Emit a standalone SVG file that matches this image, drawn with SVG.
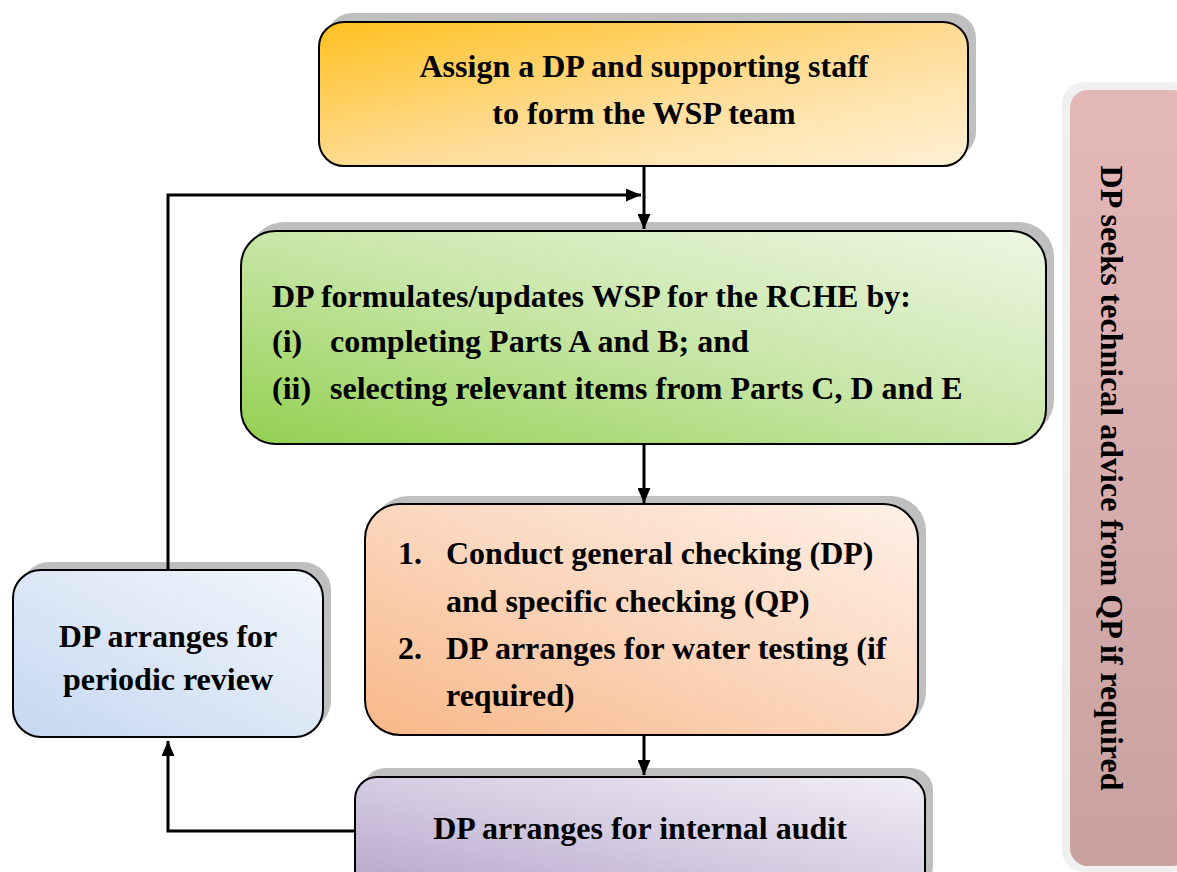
<svg xmlns="http://www.w3.org/2000/svg" width="1177" height="872" viewBox="0 0 1177 872">
<defs>
<linearGradient id="gOrange" x1="0" y1="0" x2="1" y2="1"><stop offset="0" stop-color="#FFC01F"/><stop offset="0.55" stop-color="#FFDD99"/><stop offset="1" stop-color="#FFF1D6"/></linearGradient>
<linearGradient id="gGreen" x1="0" y1="1" x2="1" y2="0"><stop offset="0" stop-color="#92D050"/><stop offset="0.5" stop-color="#C8E6A8"/><stop offset="1" stop-color="#EEF7E4"/></linearGradient>
<linearGradient id="gPeach" x1="0" y1="1" x2="1" y2="0"><stop offset="0" stop-color="#F8B888"/><stop offset="0.5" stop-color="#FBD6BD"/><stop offset="1" stop-color="#FEF0E7"/></linearGradient>
<linearGradient id="gBlue" x1="0" y1="1" x2="1" y2="0"><stop offset="0" stop-color="#C5D8F0"/><stop offset="1" stop-color="#F3F6FC"/></linearGradient>
<linearGradient id="gPurple" x1="0" y1="1" x2="1" y2="0"><stop offset="0" stop-color="#B4A3C9"/><stop offset="0.5" stop-color="#D5CCE2"/><stop offset="1" stop-color="#F1EEF6"/></linearGradient>
<linearGradient id="gPink" x1="0" y1="0" x2="0" y2="1"><stop offset="0" stop-color="#E5B8B8"/><stop offset="1" stop-color="#C9A1A1"/></linearGradient>
<marker id="ah" markerWidth="15" markerHeight="13" refX="15" refY="6.5" orient="auto" markerUnits="userSpaceOnUse"><path d="M0,0 L15,6.5 L0,13 Z" fill="#000"/></marker>
</defs>
<style>
.shadow{fill:#BFBFBF}
.box{stroke:#000;stroke-width:2}
.t{font-family:"Liberation Serif","Times New Roman",serif;font-weight:bold;font-size:32px;fill:#000}
.c{text-anchor:middle}
.conn{fill:none;stroke:#000;stroke-width:3}
</style>
<rect width="1177" height="872" fill="#fff"/>

<g id="qp-advice">
<rect x="1062" y="82" width="130" height="790" rx="22" fill="#F0F0F0"/>
<rect x="1070" y="90" width="120" height="776" rx="18" fill="url(#gPink)"/>
<text class="t c" transform="translate(1101,478) rotate(90)">DP seeks technical advice from QP if required</text>
</g>

<g id="assign">
<rect class="shadow" x="327" y="13" width="649" height="144" rx="25"/>
<rect class="box" x="319" y="22" width="649" height="144" rx="25" fill="url(#gOrange)"/>
<text class="t c" x="644" y="77">Assign a DP and supporting staff</text>
<text class="t c" x="644" y="124">to form the WSP team</text>
</g>

<g id="formulate">
<rect class="shadow" x="249" y="222" width="805" height="213" rx="35"/>
<rect class="box" x="241" y="231" width="805" height="213" rx="35" fill="url(#gGreen)"/>
<text class="t" x="272" y="307">DP formulates/updates WSP for the RCHE by:</text>
<text class="t" x="272" y="352">(i)</text><text class="t" x="330" y="352">completing Parts A and B; and</text>
<text class="t" x="272" y="399">(ii)</text><text class="t" x="330" y="399">selecting relevant items from Parts C, D and E</text>
</g>

<g id="checking">
<rect class="shadow" x="373" y="496" width="553" height="231" rx="35"/>
<rect class="box" x="365" y="504" width="553" height="231" rx="35" fill="url(#gPeach)"/>
<text class="t" x="398" y="564">1.</text><text class="t" x="446" y="564">Conduct general checking (DP)</text>
<text class="t" x="446" y="612">and specific checking (QP)</text>
<text class="t" x="398" y="659">2.</text><text class="t" x="446" y="659">DP arranges for water testing (if</text>
<text class="t" x="446" y="706">required)</text>
</g>

<g id="review">
<rect class="shadow" x="21" y="562" width="310" height="167" rx="28"/>
<rect class="box" x="13" y="570" width="310" height="167" rx="28" fill="url(#gBlue)"/>
<text class="t c" x="168" y="647">DP arranges for</text>
<text class="t c" x="168" y="690">periodic review</text>
</g>

<g id="audit">
<rect class="shadow" x="363" y="768" width="570" height="120" rx="22"/>
<rect class="box" x="355" y="777" width="570" height="120" rx="22" fill="url(#gPurple)"/>
<text class="t c" x="640" y="839">DP arranges for internal audit</text>
</g>

<g id="connectors">
<line class="conn" x1="644" y1="167" x2="644" y2="229" marker-end="url(#ah)"/>
<line class="conn" x1="644" y1="445" x2="644" y2="503" marker-end="url(#ah)"/>
<line class="conn" x1="644" y1="736" x2="644" y2="775" marker-end="url(#ah)"/>
<polyline class="conn" points="168,570 168,195 641,195" marker-end="url(#ah)"/>
<polyline class="conn" points="355,831 168,831 168,741" marker-end="url(#ah)"/>
</g>
</svg>
